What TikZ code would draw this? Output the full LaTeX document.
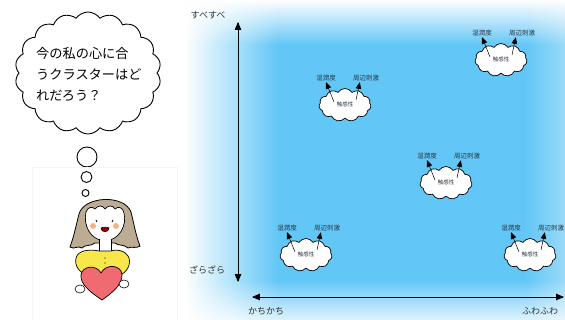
\documentclass[tikz,border=0pt]{standalone}
\usepackage{fontspec}
\newfontfamily\jp{Noto Sans CJK JP}
\usetikzlibrary{arrows,fadings,shapes.symbols}

\definecolor{skyblue}{RGB}{98,199,247}
\definecolor{hairtan}{RGB}{188,172,148}
\definecolor{shirtyellow}{RGB}{248,230,75}
\definecolor{heartpink}{RGB}{240,106,114}
\definecolor{cheek}{RGB}{248,178,130}
\definecolor{inktext}{RGB}{45,55,70}

\tikzset{
  puff/.style={cloud,cloud puffs=11,cloud puff arc=115,aspect=1.6,draw=black,fill=white,
    line width=0.7pt,minimum width=52pt,minimum height=33pt,inner sep=0pt},
  tag/.style={font=\jp\fontsize{6.5}{7}\selectfont,text=inktext,inner sep=1pt},
  axislabel/.style={font=\jp\fontsize{9}{10}\selectfont,text=black!80,inner sep=0pt},
  bubble/.style={circle,draw=black,line width=.9pt,fill=white,inner sep=0pt},
}

\begin{document}
\begin{tikzpicture}[x=1pt,y=-1pt,>=triangle 45]
\useasboundingbox (0,0) rectangle (565,320);

% map background
\fill[skyblue] (185,0) rectangle (565,320);
\fill[white,path fading=east] (185,0) rectangle (278,320);
\fill[white,path fading=south] (185,0) rectangle (565,45);
\fill[white,opacity=.8,path fading=north] (185,280) rectangle (565,320);
\fill[white,opacity=.35,path fading=west] (525,0) rectangle (565,320);

% axes
\coordinate (ytop) at (238,22);
\coordinate (ybot) at (238,282);
\coordinate (xleft) at (252,297);
\coordinate (xright) at (564,297);
\draw[<->,line width=.8pt] (ytop) -- (ybot);
\draw[<->,line width=.8pt] (xleft) -- (xright);
\node[axislabel] (smooth) at (208,15) {すべすべ};
\node[axislabel] (rough) at (207,270) {ざらざら};
\node[axislabel] (hard) at (266,311) {かちかち};
\node[axislabel] (soft) at (540,311) {ふわふわ};

% clusters
\foreach \n/\x/\y in {1/501/60,2/345/105,3/446/183,4/306/255,5/530/255}{
  \node[puff] (c\n) at (\x,\y) {};
  \node[tag,font=\jp\fontsize{5.5}{6}\selectfont] (m\n) at (\x,\y-1) {触感性};
  \node[tag] (l\n) at (\x-19,\y-27) {湿潤度};
  \node[tag] (r\n) at (\x+21,\y-27) {周辺刺激};
  \coordinate (sl\n) at (\x-11,\y-3);
  \coordinate (sr\n) at (\x+11,\y-5);
  \draw[->,line width=.5pt] (sl\n) -- (l\n.south);
  \draw[->,line width=.5pt] (sr\n) -- ([xshift=8pt]r\n.south west);
}

% thought bubble
\node[cloud,cloud puffs=18,cloud puff arc=110,aspect=1.2,draw=black,line width=.9pt,fill=white,
  minimum width=146pt,minimum height=122pt] (think) at (88,73) {};
\node[font=\jp\fontsize{13.2}{21}\selectfont,align=left,anchor=north west,inner sep=0pt] (question)
  at (36,47) {今の私の心に合\\うクラスターはど\\れだろう？};
\node[bubble,minimum size=20pt] (b1) at (87,157) {};
\node[bubble,minimum size=11pt] (b2) at (86.5,177) {};
\node[bubble,minimum size=7pt] (b3) at (85.5,193) {};

% girl
\draw[black!4] (32,167) rectangle (177,330);
\filldraw[fill=hairtan,draw=black,line width=.8pt] (70,247) .. controls (74,236) and (76,226) .. (79,214)
  .. controls (84,196) and (124,194) .. (131,212) .. controls (134,224) and (136,236) .. (140,246)
  .. controls (136,249) and (132,246) .. (128,248) .. controls (124,244) and (118,246) .. (115,243)
  -- (95,243) .. controls (90,247) and (85,244) .. (82,248) .. controls (78,245) and (74,250) .. (70,247) -- cycle;
\filldraw[fill=white,draw=black,line width=.7pt] (86,212) .. controls (88,207) and (92,206) .. (95,209)
  .. controls (98,205) and (103,205) .. (105,209) .. controls (108,205) and (113,205) .. (115,209)
  .. controls (118,206) and (123,207) .. (124,213) .. controls (127,225) and (120,240) .. (105,241)
  .. controls (90,240) and (83,225) .. (86,212) -- cycle;
\fill[white] (99,238) rectangle (111,253);
\draw[line width=.7pt] (99,239) -- (99,252) (111,239) -- (111,252);
\fill[cheek] (93,226) circle (3) (116,226) circle (3);
\draw[line width=.8pt] (96,220) -- (97,222) (113,220) -- (112,222);
\filldraw[fill=red!60!black,draw=black,line width=.6pt] (101,228) .. controls (103,227) and (108,227) .. (109,228)
  .. controls (109,233) and (101,233) .. (101,228) -- cycle;
\filldraw[fill=shirtyellow,draw=black,line width=.7pt] (99,251) .. controls (90,249) and (78,250) .. (76,258)
  .. controls (74,266) and (80,274) .. (90,276) -- (118,276) .. controls (128,273) and (132,262) .. (128,256)
  .. controls (125,250) and (115,249) .. (111,251) -- cycle;
\fill (105,258) circle (.7) (105,263) circle (.7);
\filldraw[fill=heartpink,draw=black,line width=.7pt] (102,300) .. controls (90,292) and (80,284) .. (81,275)
  .. controls (82,266) and (96,264) .. (101,273) .. controls (106,263) and (122,265) .. (122,275)
  .. controls (122,285) and (112,293) .. (102,300) -- cycle;
\filldraw[fill=white,draw=black,line width=.6pt] (80,289) ellipse (5 and 4) (124,284) ellipse (5 and 4);
\end{tikzpicture}
\end{document}
